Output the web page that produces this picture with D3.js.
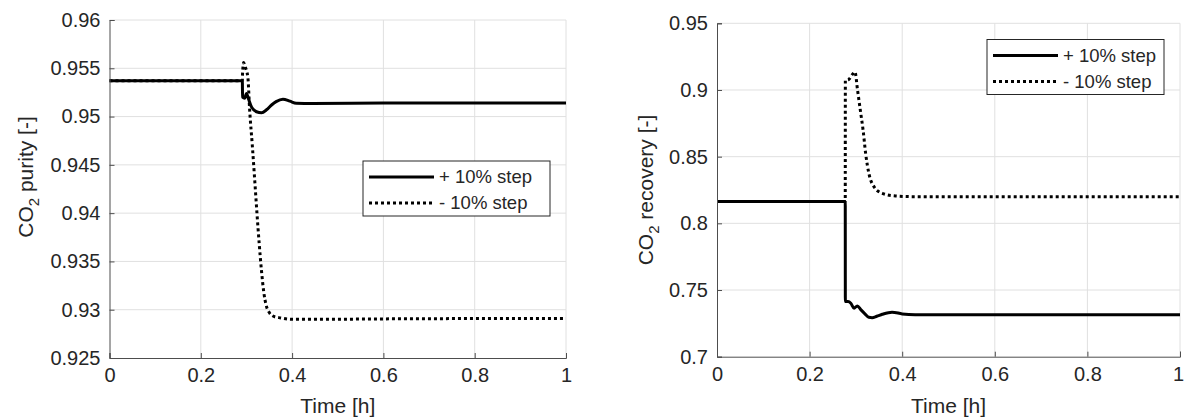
<!DOCTYPE html>
<html>
<head>
<meta charset="utf-8">
<script src="https://cdn.jsdelivr.net/npm/d3@7"></script>
<style>
  html, body { margin: 0; padding: 0; background: #fff; }
  svg { display: block; }
  text { font-family: "Liberation Sans", Arial, Helvetica, sans-serif; fill: #262626; }
</style>
</head>
<body>
<svg id="chart" width="1184" height="419"></svg>
<script>
// ---- CO2 purity response (left panel) ----
const purityUpTime = [0, 0.291, 0.2915, 0.296, 0.300, 0.304, 0.311, 0.322, 0.333, 0.344, 0.355, 0.365, 0.380, 0.395, 0.409, 0.445, 0.60, 0.70, 1.0];
const purityUp     = [0.9537, 0.9537, 0.9520, 0.9519, 0.9524, 0.9519, 0.9510, 0.9505, 0.9504, 0.9507, 0.9512, 0.95155, 0.9518, 0.9516, 0.95138, 0.95135, 0.9514, 0.9514, 0.9514];

const purityDownTime = [0, 0.291, 0.2915, 0.294, 0.296, 0.303, 0.307, 0.313, 0.318, 0.323, 0.328, 0.333, 0.338, 0.343, 0.350, 0.360, 0.375, 0.400, 0.450, 0.600, 1.0];
const purityDown     = [0.9537, 0.9537, 0.9545, 0.9556, 0.9553, 0.9541, 0.9507, 0.9469, 0.9435, 0.9400, 0.9368, 0.9340, 0.9318, 0.9305, 0.9297, 0.9293, 0.92915, 0.9290, 0.9290, 0.92905, 0.9291];

// ---- CO2 recovery response (right panel) ----
const recoveryUpTime = [0, 0.277, 0.2772, 0.283, 0.289, 0.296, 0.303, 0.311, 0.320, 0.328, 0.335, 0.345, 0.357, 0.378, 0.400, 0.428, 0.521, 1.0];
const recoveryUp     = [0.8163, 0.8163, 0.7413, 0.7413, 0.7401, 0.7364, 0.7381, 0.7351, 0.7320, 0.7296, 0.7293, 0.7303, 0.7318, 0.7334, 0.7321, 0.7315, 0.7315, 0.7315];

const recoveryDownTime = [0, 0.277, 0.2772, 0.285, 0.292, 0.298, 0.3035, 0.3105, 0.3155, 0.321, 0.328, 0.339, 0.357, 0.386, 0.428, 0.60, 1.0];
const recoveryDown     = [0.8163, 0.8163, 0.9070, 0.9080, 0.9115, 0.9135, 0.9000, 0.8825, 0.8700, 0.8525, 0.8375, 0.8275, 0.8225, 0.8205, 0.8200, 0.8200, 0.8200];

// ---- axis ticks ----
const timeTicks = [0, 0.2, 0.4, 0.6, 0.8, 1];
const purityTicks = [0.925, 0.93, 0.935, 0.94, 0.945, 0.95, 0.955, 0.96];
const recoveryTicks = [0.7, 0.75, 0.8, 0.85, 0.9, 0.95];

// ---- legend ----
const legendLabels = ["+ 10% step", "- 10% step"];

const svg = d3.select("#chart");

const panels = [
  {
    x0: 109.5, x1: 566, yTop: 20, yBot: 358,
    yDomain: [0.925, 0.96], yTicks: purityTicks,
    fmt: d => String(+d.toFixed(3)),
    title: " purity [-]", titleX: 33, titleY: 177,
    series: [
      { t: purityUpTime, v: purityUp, dashed: false },
      { t: purityDownTime, v: purityDown, dashed: true }
    ],
    legend: { x: 363, y: 161, w: 187, h: 55 }
  },
  {
    x0: 717, x1: 1180, yTop: 23.3, yBot: 356.7,
    yDomain: [0.7, 0.95], yTicks: recoveryTicks,
    fmt: d => String(+d.toFixed(2)),
    title: " recovery [-]", titleX: 653, titleY: 190,
    series: [
      { t: recoveryUpTime, v: recoveryUp, dashed: false },
      { t: recoveryDownTime, v: recoveryDown, dashed: true }
    ],
    legend: { x: 987, y: 39.5, w: 177, h: 55 }
  }
];

const gridColor = "#e0e0e0";
const axisColor = "#4d4d4d";

panels.forEach((p, pi) => {
  const x = d3.scaleLinear().domain([0, 1]).range([p.x0, p.x1]);
  const y = d3.scaleLinear().domain(p.yDomain).range([p.yBot, p.yTop]);
  const g = svg.append("g");

  // grid
  g.append("g").selectAll("line").data(timeTicks.slice(1)).join("line")
    .attr("x1", d => x(d)).attr("x2", d => x(d))
    .attr("y1", p.yTop).attr("y2", p.yBot)
    .attr("stroke", gridColor).attr("stroke-width", 1);
  g.append("g").selectAll("line").data(p.yTicks.slice(1)).join("line")
    .attr("x1", p.x0).attr("x2", p.x1)
    .attr("y1", d => y(d)).attr("y2", d => y(d))
    .attr("stroke", gridColor).attr("stroke-width", 1);

  // data lines
  const line = d3.line().x(d => x(d[0])).y(d => y(d[1])).curve(d3.curveMonotoneX);
  p.series.forEach(s => {
    const pts = s.t.map((t, i) => [t, s.v[i]]);
    g.append("path").datum(pts)
      .attr("d", line)
      .attr("fill", "none")
      .attr("stroke", "#000")
      .attr("stroke-width", 3)
      .attr("stroke-linejoin", "round")
      .attr("stroke-dasharray", s.dashed ? "3,3" : null);
  });

  // axes (ticks point inward)
  const xAxis = d3.axisBottom(x).tickValues(timeTicks).tickSize(-5).tickPadding(10)
    .tickFormat(d => String(+d.toFixed(1)));
  const gx = g.append("g").attr("transform", `translate(0,${p.yBot})`).call(xAxis);
  const yAxis = d3.axisLeft(y).tickValues(p.yTicks).tickSize(-5).tickPadding(9).tickFormat(p.fmt);
  const gy = g.append("g").attr("transform", `translate(${p.x0},0)`).call(yAxis);
  [gx, gy].forEach(a => {
    a.select(".domain").attr("stroke", axisColor).attr("stroke-width", 1);
    a.selectAll(".tick line").attr("stroke", axisColor);
    a.selectAll(".tick text").attr("font-size", 20).attr("fill", "#262626")
      .style("font-family", '"Liberation Sans", Arial, Helvetica, sans-serif');
  });
  gx.selectAll(".tick text").attr("dy", "0.71em");
  // keep the last time label of the right panel inside the page
  if (pi === 1) gx.selectAll(".tick text").filter(d => d === 1).attr("dx", -2);

  // axis titles
  g.append("text")
    .attr("x", (p.x0 + p.x1) / 2).attr("y", 413)
    .attr("text-anchor", "middle").attr("font-size", 21)
    .text("Time [h]");

  const yt = g.append("text")
    .attr("transform", `translate(${p.titleX},${p.titleY}) rotate(-90)`)
    .attr("text-anchor", "middle").attr("font-size", 21);
  yt.append("tspan").text("CO");
  yt.append("tspan").attr("font-size", 15).attr("dy", 6).text("2");
  yt.append("tspan").attr("dy", -6).text(p.title);

  // legend
  const L = p.legend;
  const lg = g.append("g").attr("transform", `translate(${L.x},${L.y})`);
  lg.append("rect").attr("x", 0).attr("y", 0).attr("width", L.w).attr("height", L.h)
    .attr("fill", "#fff").attr("stroke", "#262626").attr("stroke-width", 1);
  legendLabels.forEach((lab, i) => {
    const cy = 16 + i * 26;
    lg.append("line").attr("x1", 6).attr("x2", 71).attr("y1", cy).attr("y2", cy)
      .attr("stroke", "#000").attr("stroke-width", 3)
      .attr("stroke-dasharray", i === 1 ? "3,3" : null);
    lg.append("text").attr("x", 76).attr("y", cy).attr("dy", "0.35em")
      .attr("font-size", 18.5).text(lab);
  });
});
</script>
</body>
</html>
